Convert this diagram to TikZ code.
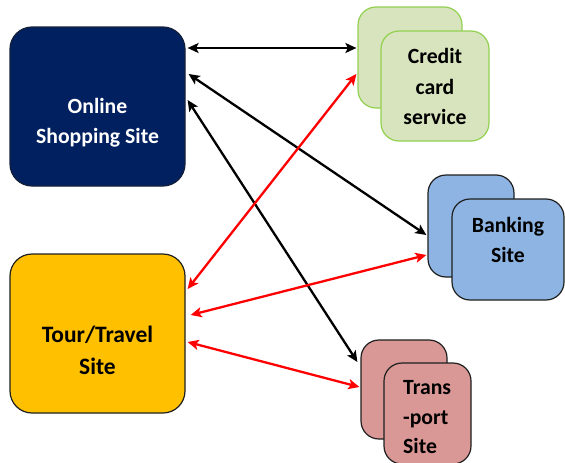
\documentclass[tikz,border=0pt]{standalone}
\usepackage{fontspec}
\setmainfont{Carlito}
\usetikzlibrary{arrows.meta,calc}
\definecolor{navy}{HTML}{002060}
\definecolor{navyline}{HTML}{14203A}
\definecolor{tourfill}{HTML}{FFC000}
\definecolor{ccfill}{HTML}{D7E4BD}
\definecolor{ccline}{HTML}{92D050}
\definecolor{bkfill}{HTML}{8DB4E2}
\definecolor{trfill}{HTML}{D99795}
\definecolor{darkline}{HTML}{1F1F1F}
\definecolor{arrred}{HTML}{FF0000}
\begin{document}
\begin{tikzpicture}[x=1pt,y=-1pt,
  box/.style={rounded corners=18pt, line width=1.2pt, inner sep=0pt},
  bigbox/.style={box, rounded corners=22pt},
  txt/.style={anchor=base, inner sep=0pt, font=\fontsize{21.7}{26}\selectfont\bfseries},
  tip/.tip={Stealth[length=11pt,width=10pt,inset=2.5pt]},
  conn/.style={line width=2.3pt, tip-tip},
  blk/.style={conn, draw=black},
  rd/.style={conn, draw=arrred},
]
\useasboundingbox (0,0) rectangle (565,463);
\clip (0,0) rectangle (565,463);

% Online shopping site
\node[bigbox, fill=navy, draw=navyline, minimum width=175pt, minimum height=159pt] (os) at (97.5,106.5) {};
\node[txt, text=white] (os1) at (97.5,113) {Online};
\node[txt, text=white] (os2) at (97.5,143) {Shopping Site};

% Tour / Travel site
\node[bigbox, fill=tourfill, draw=darkline, minimum width=175pt, minimum height=159pt] (tt) at (97.5,333.5) {};
\node[txt, font=\fontsize{23.5}{28}\selectfont\bfseries] (tt1) at (97.5,342) {Tour/Travel};
\node[txt, font=\fontsize{23.5}{28}\selectfont\bfseries] (tt2) at (97.5,374) {Site};

% Credit card service
\node[box, fill=ccfill, draw=ccline, minimum width=104pt, minimum height=101pt] (ccb) at (410,57.5) {};
\node[box, fill=ccfill, draw=ccline, minimum width=108pt, minimum height=110pt] (ccf) at (435,86) {};
\node[txt] (cc1) at (435,63) {Credit};
\node[txt] (cc2) at (435,94) {card};
\node[txt] (cc3) at (435,124) {service};

% Banking site
\node[box, fill=bkfill, draw=darkline, minimum width=86pt, minimum height=102pt] (bkb) at (471,226) {};
\node[box, fill=bkfill, draw=darkline, minimum width=112pt, minimum height=101pt] (bkf) at (508,249.5) {};
\node[txt] (bk1) at (508,232) {Banking};
\node[txt] (bk2) at (508,262) {Site};

% Transport site
\node[box, fill=trfill, draw=darkline, minimum width=86pt, minimum height=99pt] (trb) at (404,389.5) {};
\node[box, fill=trfill, draw=darkline, minimum width=87pt, minimum height=101pt] (trf) at (427.5,413.5) {};
\node[txt, anchor=base west] (tr1) at (403,394) {Trans};
\node[txt, anchor=base west] (tr2) at (403,424) {-port};
\node[txt, anchor=base west] (tr3) at (403,453) {Site};

% black connectors
\draw[blk] ([xshift=2pt,yshift=58.5pt]os.east) -- ([xshift=-1pt,yshift=9.5pt]ccb.west);
\draw[blk] ([xshift=3pt,yshift=32.5pt]os.east) -- ([xshift=-1pt,yshift=-9pt]bkb.west);
\draw[blk] ([xshift=2pt,yshift=6.5pt]os.east) -- ([xshift=-3pt,yshift=27.5pt]trb.west);

% red connectors
\draw[rd] ([xshift=2pt,yshift=44.5pt]tt.east) -- ([xshift=-1pt,yshift=-16.5pt]ccb.west);
\draw[rd] ([xshift=5pt,yshift=18.5pt]tt.east) -- ([xshift=-1pt,yshift=-29pt]bkb.west);
\draw[rd] ([xshift=2pt,yshift=-8.5pt]tt.east) -- ([xshift=-1pt,yshift=2.5pt]trb.west);
\end{tikzpicture}
\end{document}
